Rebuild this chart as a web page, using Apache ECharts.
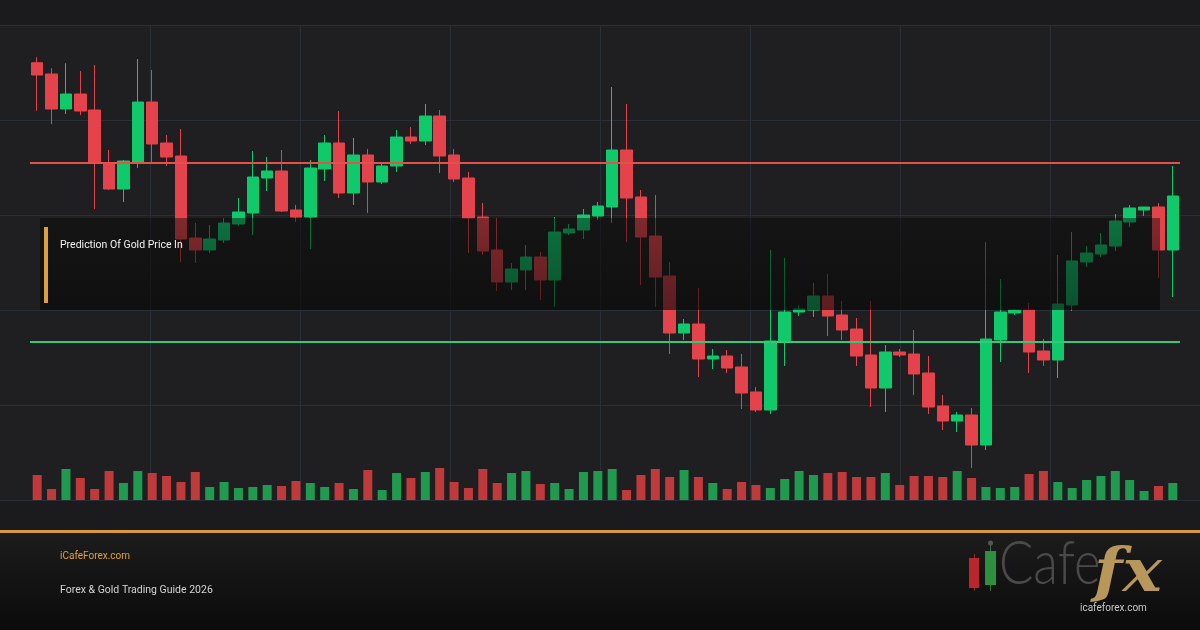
<!DOCTYPE html>
<html>
<head>
<meta charset="utf-8">
<script src="https://cdn.jsdelivr.net/npm/echarts@6/dist/echarts.min.js"></script>
<style>
html,body{margin:0;padding:0;background:#1b1b1d;}
#chart{width:1200px;height:630px;}
</style>
</head>
<body>
<div id="chart"></div>
<script>
// ---- data ----
const categories = Array.from({length: 80}, (_, i) => 'D' + (i + 1));
// [open, close, low, high]
const candles = [
 [2684.9,2680.0,2665.7,2687.1],[2680.4,2666.4,2660.4,2682.7],[2666.4,2672.4,2664.4,2684.7],[2672.4,2665.6,2664.0,2681.6],
 [2666.0,2644.8,2626.4,2684.0],[2644.8,2634.4,2634.0,2650.0],[2634.4,2645.6,2629.2,2646.0],[2645.2,2669.2,2642.8,2686.4],
 [2669.2,2652.4,2644.8,2682.0],[2652.8,2647.2,2643.6,2656.0],[2647.6,2614.4,2605.2,2658.4],[2614.8,2610.0,2604.8,2620.8],
 [2610.0,2614.4,2608.8,2620.0],[2614.0,2620.8,2612.8,2622.8],[2620.4,2625.2,2619.6,2630.8],[2624.8,2639.2,2616.0,2649.6],
 [2638.8,2641.6,2633.6,2647.2],[2641.6,2625.6,2625.2,2650.0],[2626.0,2623.2,2621.2,2628.0],[2623.2,2642.8,2610.4,2646.0],
 [2642.4,2652.8,2637.6,2656.0],[2652.8,2632.8,2630.8,2665.6],[2632.8,2648.0,2628.0,2654.8],[2648.0,2637.2,2624.8,2650.4],
 [2637.2,2643.6,2636.4,2645.2],[2643.6,2655.2,2641.2,2658.0],[2655.2,2653.6,2652.4,2659.2],[2653.6,2663.6,2652.0,2668.4],
 [2663.6,2647.6,2640.8,2666.0],[2648.0,2638.4,2637.2,2650.4],[2638.8,2622.8,2608.8,2641.2],[2623.2,2609.6,2608.0,2628.8],
 [2610.0,2597.2,2593.6,2622.8],[2597.2,2602.4,2594.0,2604.8],[2602.0,2607.2,2594.0,2612.0],[2607.2,2598.0,2590.0,2609.2],
 [2598.0,2617.2,2587.2,2623.2],[2616.8,2618.4,2616.0,2620.4],[2618.0,2624.0,2614.4,2626.4],[2623.6,2627.6,2622.0,2629.2],
 [2627.2,2650.0,2620.8,2675.2],[2650.0,2630.8,2613.2,2668.4],[2631.2,2615.2,2596.0,2634.0],[2615.6,2599.2,2587.2,2632.0],
 [2599.6,2576.8,2568.4,2605.2],[2576.8,2580.4,2574.0,2582.4],[2580.4,2566.4,2559.2,2594.8],[2566.4,2567.6,2562.4,2570.4],
 [2567.6,2562.8,2560.8,2570.0],[2563.2,2552.8,2546.4,2568.4],[2553.2,2546.0,2545.2,2555.2],[2546.0,2573.6,2544.4,2610.0],
 [2573.2,2585.2,2563.6,2606.8],[2585.2,2586.4,2583.6,2588.0],[2586.0,2591.6,2583.2,2596.8],[2591.6,2583.6,2575.6,2600.4],
 [2584.0,2578.0,2574.0,2589.6],[2578.4,2567.6,2563.6,2582.8],[2568.0,2554.8,2547.2,2589.6],[2554.8,2569.2,2545.2,2572.0],
 [2569.2,2568.0,2567.2,2570.4],[2568.4,2560.4,2552.0,2578.0],[2560.8,2547.2,2544.4,2567.6],[2547.6,2541.6,2538.0,2552.0],
 [2541.6,2544.0,2537.2,2545.2],[2544.0,2532.0,2522.8,2546.8],[2532.0,2574.4,2530.0,2613.2],[2574.0,2585.2,2565.2,2598.4],
 [2584.8,2586.0,2584.0,2586.4],[2586.0,2569.2,2560.8,2588.8],[2569.6,2566.0,2563.6,2574.4],[2566.0,2588.4,2558.8,2608.0],
 [2588.0,2605.6,2585.6,2617.2],[2605.2,2608.8,2603.2,2611.6],[2608.4,2612.0,2607.2,2616.8],[2611.6,2621.6,2609.6,2624.4],
 [2621.2,2626.8,2619.2,2628.0],[2626.0,2627.2,2623.6,2627.2],[2627.2,2610.0,2598.8,2628.8],[2610.0,2631.6,2591.2,2643.6]
];
const volumes = [
 25,11,31,22,11,29,17,29,27,24,18,28,13,18,12,13,15,14,19,17,13,17,11,30,10,27,
 22,28,32,18,12,31,17,27,29,16,17,11,28,29,31,10,25,31,23,30,23,17,11,18,15,12,21,29,
 25,27,28,23,23,27,15,24,24,23,29,22,13,12,13,26,29,18,12,20,24,29,20,9,14,17
];
const resistanceLevel = 2645.0;
const supportLevel = 2573.3;
const titleText = 'Prediction Of Gold Price In';
const siteText = 'iCafeForex.com';
const guideText = 'Forex & Gold Trading Guide 2026';
const logoUrlText = 'icafeforex.com';

// ---- colours ----
const UP = '#10c96b', DOWN = '#e5434b';
const VUP = '#1f9a4f', VDOWN = '#c03a3c';
const GOLD = '#dca040';
const GRIDC = '#2a2e37';

const volData = volumes.map((v, i) => ({
  value: v,
  itemStyle: { color: candles[i][1] >= candles[i][0] ? VUP : VDOWN }
}));

const chart = echarts.init(document.getElementById('chart'), null, {renderer: 'canvas'});
const hidden = { show: false };
chart.setOption({
  backgroundColor: '#1b1b1d',
  animation: false,
  grid: [
    { left: 0, right: 0, top: 25, bottom: 130, show: true, backgroundColor: '#1f1f21', borderWidth: 0 },
    { left: 30, right: 20, top: 25, bottom: 130 },
    { left: 30, right: 20, top: 460, bottom: 130 }
  ],
  xAxis: [
    { type: 'value', gridIndex: 0, min: 0, max: 8, interval: 1, axisLine: hidden, axisTick: hidden, axisLabel: hidden,
      splitLine: { show: true, lineStyle: { color: ['rgba(0,0,0,0)', GRIDC, GRIDC, GRIDC, GRIDC, GRIDC, GRIDC, GRIDC, 'rgba(0,0,0,0)'], width: 1 } } },
    { type: 'category', gridIndex: 1, data: categories, boundaryGap: true, axisLine: hidden, axisTick: hidden, axisLabel: hidden, splitLine: hidden },
    { type: 'category', gridIndex: 2, data: categories, boundaryGap: true, axisLine: hidden, axisTick: hidden, axisLabel: hidden, splitLine: hidden }
  ],
  yAxis: [
    { type: 'value', gridIndex: 0, min: 0, max: 5, interval: 1, axisLine: hidden, axisTick: hidden, axisLabel: hidden,
      splitLine: { show: true, lineStyle: { color: GRIDC, width: 1 } } },
    { type: 'value', gridIndex: 1, min: 2510, max: 2700, scale: true, axisLine: hidden, axisTick: hidden, axisLabel: hidden, splitLine: hidden },
    { type: 'value', gridIndex: 2, min: 0, max: 40, axisLine: hidden, axisTick: hidden, axisLabel: hidden, splitLine: hidden }
  ],
  series: [
    { type: 'scatter', xAxisIndex: 0, yAxisIndex: 0, data: [], silent: true },
    { type: 'bar', name: 'Volume', xAxisIndex: 2, yAxisIndex: 2, data: volData, barWidth: 9, silent: true, z: 1 },
    { type: 'candlestick', name: 'XAUUSD', xAxisIndex: 1, yAxisIndex: 1, data: candles, barWidth: 12, z: 3,
      itemStyle: { color: UP, color0: DOWN, borderColor: UP, borderColor0: DOWN, borderWidth: 1 },
      markLine: {
        silent: true, symbol: ['none', 'none'], label: { show: false },
        data: [
          { yAxis: resistanceLevel, lineStyle: { color: '#e2524b', width: 2, type: 'solid' } },
          { yAxis: supportLevel, lineStyle: { color: '#33c97a', width: 2, type: 'solid' } }
        ]
      }
    }
  ],
  graphic: [
    // prediction overlay box
    { type: 'rect', z: 100, shape: { x: 40, y: 218, width: 1120, height: 92 },
      style: { fill: new echarts.graphic.LinearGradient(0, 0, 0, 1, [
        { offset: 0, color: 'rgba(8,8,8,0.45)' }, { offset: 1, color: 'rgba(6,6,6,0.62)' }]) } },
    { type: 'rect', z: 101, shape: { x: 44, y: 227, width: 4, height: 76 }, style: { fill: GOLD } },
    { type: 'text', z: 101, x: 60, y: 245, style: { text: titleText, fill: '#f2f2f2', font: '10.5px Roboto', textVerticalAlign: 'middle' } },
    // footer
    { type: 'rect', z: 10, shape: { x: 0, y: 533, width: 1200, height: 97 },
      style: { fill: new echarts.graphic.LinearGradient(0, 0, 0, 1, [
        { offset: 0, color: '#1c1c1c' }, { offset: 1, color: '#0b0b0b' }]) } },
    { type: 'rect', z: 11, shape: { x: 0, y: 530, width: 1200, height: 3 }, style: { fill: '#d79b3c' } },
    { type: 'text', z: 11, x: 60, y: 556, style: { text: siteText, fill: '#e0a040', font: '10px Roboto', textVerticalAlign: 'middle' } },
    { type: 'text', z: 11, x: 60, y: 590, style: { text: guideText, fill: '#d4d4d4', font: '10.5px Roboto', textVerticalAlign: 'middle' } },
    // logo candles
    { type: 'rect', z: 11, shape: { x: 974, y: 554, width: 1, height: 37 }, style: { fill: '#8a2a2a' } },
    { type: 'rect', z: 12, shape: { x: 969, y: 558, width: 10, height: 30 }, style: { fill: '#b9262c' } },
    { type: 'rect', z: 11, shape: { x: 990, y: 542, width: 1, height: 49 }, style: { fill: '#3c6e44' } },
    { type: 'circle', z: 12, shape: { cx: 990.5, cy: 543, r: 2.5 }, style: { fill: '#555' } },
    { type: 'rect', z: 12, shape: { x: 985, y: 551, width: 11, height: 34 }, style: { fill: '#2e8f40' } },
    { type: 'text', z: 11, x: 999, y: 595, scaleX: 0.82,
      style: { text: 'Cafe', fill: '#4a4a4a', font: '300 62px Lato', textVerticalAlign: 'bottom' } },
    { type: 'text', z: 12, x: 1094, y: 605, scaleX: 1.1,
      style: { text: 'fx', fill: '#b8975a', font: 'italic bold 60px "DejaVu Serif"', textVerticalAlign: 'bottom' } },
    { type: 'text', z: 13, x: 1080, y: 608, style: { text: logoUrlText, fill: '#c8c8c8', font: '10px Roboto', textVerticalAlign: 'middle' } }
  ]
});
</script>
</body>
</html>
